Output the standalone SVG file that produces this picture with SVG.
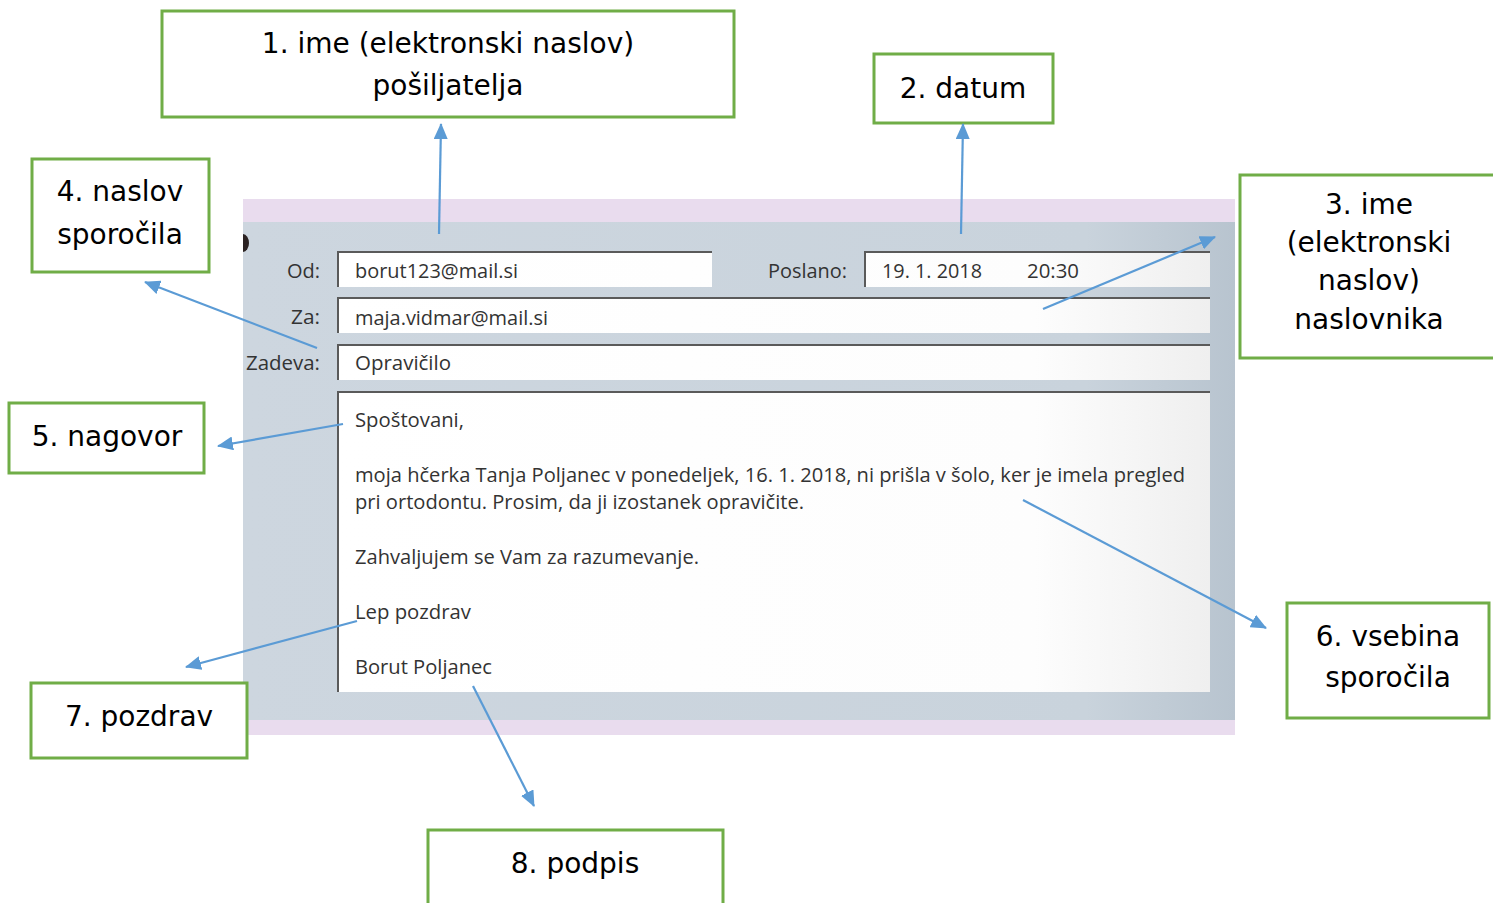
<svg xmlns="http://www.w3.org/2000/svg" width="1493" height="903" viewBox="0 0 1493 903">
<style>
.box{fill:#fff;stroke:#70ad47;stroke-width:3}
.lbl{font-family:"DejaVu Sans",Verdana,sans-serif;font-size:28px;fill:#000;text-anchor:middle}
.em{font-family:"Open Sans","Noto Sans",sans-serif;font-size:20px;fill:#333}
.fld{fill:url(#fg)}
.edge{stroke:#5a5a5a;stroke-width:2;fill:none}
.conn{stroke:#5b9bd5;stroke-width:2.2;fill:none;marker-end:url(#ah)}
</style>
<defs>
<linearGradient id="pg" x1="0" y1="0" x2="1" y2="0">
<stop offset="0" stop-color="#cdd6df"/><stop offset="0.85" stop-color="#c9d3dc"/><stop offset="1" stop-color="#b8c4cf"/>
</linearGradient>
<linearGradient id="fg" gradientUnits="userSpaceOnUse" x1="337" y1="0" x2="1210" y2="0">
<stop offset="0" stop-color="#ffffff"/><stop offset="0.8" stop-color="#fdfdfd"/><stop offset="1" stop-color="#efefef"/>
</linearGradient>
<marker id="ah" markerUnits="userSpaceOnUse" markerWidth="16" markerHeight="14" refX="15" refY="7" orient="auto">
<path d="M0,0 L16,7 L0,14 Z" fill="#5b9bd5"/>
</marker>
</defs>
<rect width="1493" height="903" fill="#fff"/>
<g id="email">
<rect x="243" y="199" width="992" height="536" fill="#e9dcee"/>
<rect x="243" y="222" width="992" height="498" fill="url(#pg)"/>
<path d="M243,234 A6,9 0 0 1 243,252 Z" fill="#2b2222"/>
<rect class="fld" x="337" y="251" width="375" height="36"/>
<path class="edge" d="M338,287 V252 H712"/>
<rect class="fld" x="864" y="251" width="346" height="36"/>
<path class="edge" d="M865,287 V252 H1210"/>
<rect class="fld" x="337" y="297" width="873" height="36"/>
<path class="edge" d="M338,333 V298 H1210"/>
<rect class="fld" x="337" y="344" width="873" height="36"/>
<path class="edge" d="M338,380 V345 H1210"/>
<rect class="fld" x="337" y="391" width="873" height="301"/>
<path class="edge" d="M338,692 V392 H1210"/>
<text class="em" x="287" y="278" textLength="33" lengthAdjust="spacingAndGlyphs">Od:</text>
<text class="em" x="291" y="324" textLength="29" lengthAdjust="spacingAndGlyphs">Za:</text>
<text class="em" x="246" y="370" textLength="74" lengthAdjust="spacingAndGlyphs">Zadeva:</text>
<text class="em" x="768" y="278" textLength="79" lengthAdjust="spacingAndGlyphs">Poslano:</text>
<text class="em" x="355" y="278" textLength="163" lengthAdjust="spacingAndGlyphs">borut123@mail.si</text>
<text class="em" x="882" y="278" textLength="100" lengthAdjust="spacingAndGlyphs">19. 1. 2018</text>
<text class="em" x="1027" y="278" textLength="52" lengthAdjust="spacingAndGlyphs">20:30</text>
<text class="em" x="355" y="325" textLength="193" lengthAdjust="spacingAndGlyphs">maja.vidmar@mail.si</text>
<text class="em" x="355" y="370" textLength="96" lengthAdjust="spacingAndGlyphs">Opravičilo</text>
<text class="em" x="355" y="427" textLength="109" lengthAdjust="spacingAndGlyphs">Spoštovani,</text>
<text class="em" x="355" y="482" textLength="830" lengthAdjust="spacingAndGlyphs">moja hčerka Tanja Poljanec v ponedeljek, 16. 1. 2018, ni prišla v šolo, ker je imela pregled</text>
<text class="em" x="355" y="509" textLength="449" lengthAdjust="spacingAndGlyphs">pri ortodontu. Prosim, da ji izostanek opravičite.</text>
<text class="em" x="355" y="564" textLength="344" lengthAdjust="spacingAndGlyphs">Zahvaljujem se Vam za razumevanje.</text>
<text class="em" x="355" y="619" textLength="116" lengthAdjust="spacingAndGlyphs">Lep pozdrav</text>
<text class="em" x="355" y="674" textLength="137" lengthAdjust="spacingAndGlyphs">Borut Poljanec</text>
</g>
<g id="n1"><rect class="box" x="162" y="11" width="572" height="106"/>
<text class="lbl" x="448" y="53">1. ime (elektronski naslov)</text>
<text class="lbl" x="448" y="95">pošiljatelja</text></g>
<g id="n2"><rect class="box" x="874" y="54" width="179" height="69"/>
<text class="lbl" x="963" y="98">2. datum</text></g>
<g id="n3"><rect class="box" x="1240" y="175" width="260" height="183"/>
<text class="lbl" x="1369" y="214">3. ime</text>
<text class="lbl" x="1369" y="252">(elektronski</text>
<text class="lbl" x="1369" y="290">naslov)</text>
<text class="lbl" x="1369" y="329">naslovnika</text></g>
<g id="n4"><rect class="box" x="32" y="159" width="177" height="113"/>
<text class="lbl" x="120" y="201">4. naslov</text>
<text class="lbl" x="120" y="244">sporočila</text></g>
<g id="n5"><rect class="box" x="9" y="403" width="195" height="70"/>
<text class="lbl" x="107" y="446">5. nagovor</text></g>
<g id="n6"><rect class="box" x="1287" y="603" width="202" height="115"/>
<text class="lbl" x="1388" y="646">6. vsebina</text>
<text class="lbl" x="1388" y="687">sporočila</text></g>
<g id="n7"><rect class="box" x="31" y="683" width="216" height="75"/>
<text class="lbl" x="139" y="726">7. pozdrav</text></g>
<g id="n8"><rect class="box" x="428" y="830" width="295" height="80"/>
<text class="lbl" x="575" y="873">8. podpis</text></g>
<g id="connectors">
<line class="conn" x1="439" y1="234" x2="441" y2="124"/>
<line class="conn" x1="961" y1="234" x2="963" y2="124"/>
<line class="conn" x1="1043" y1="309" x2="1215" y2="237"/>
<line class="conn" x1="317" y1="348" x2="145" y2="282"/>
<line class="conn" x1="343" y1="424" x2="218" y2="446"/>
<line class="conn" x1="1023" y1="500" x2="1266" y2="628"/>
<line class="conn" x1="357" y1="621" x2="186" y2="667"/>
<line class="conn" x1="473" y1="686" x2="534" y2="806"/>
</g>
</svg>
